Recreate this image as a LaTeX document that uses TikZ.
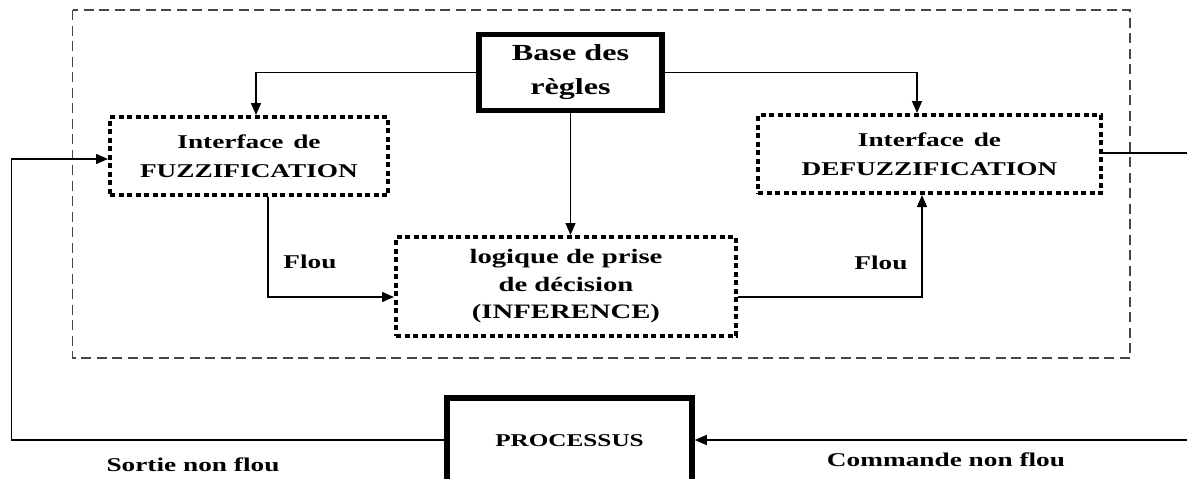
\documentclass[tikz,border=0pt]{standalone}
\usepackage{fontspec}
\setmainfont{Liberation Serif}[FakeStretch=1.4]
\usetikzlibrary{arrows.meta}

\begin{document}
\begin{tikzpicture}[x=1pt,y=1pt,yscale=-1,xscale=1,
  arr/.style={line width=1.4pt,-{Triangle[length=12pt,width=10pt]}},
  wire/.style={line width=1.4pt},
  dotbox/.style={draw,line width=4pt,dash pattern={on 5pt off 3.5pt},inner sep=0pt,align=center,font=\bfseries\fontsize{19.5}{29}\selectfont},
  thickbox/.style={draw,line width=5.5pt,inner sep=0pt,align=center},
  lbl/.style={font=\bfseries\fontsize{19.5}{24}\selectfont}]
%set diagram to 1187 x 479
\useasboundingbox (0,0) rectangle (1187,479);

\draw [color={rgb, 255:red, 70; green, 70; blue, 70 }, line width=1.5pt, dash pattern={on 10pt off 5.5pt}]  (72.5,10) rectangle (1130,358) ;

\node [thickbox, minimum width=183pt, minimum height=76pt, font=\bfseries\fontsize{23}{34}\selectfont] (base) at (570.5,72.5) {Base des\\règles};
\node [dotbox, minimum width=278pt, minimum height=78pt] (fuzz) at (249,156) {Interface\enspace de\\FUZZIFICATION};
\node [dotbox, minimum width=343pt, minimum height=78pt] (defuzz) at (929.5,154) {Interface\enspace de\\DEFUZZIFICATION};
\node [dotbox, minimum width=340pt, minimum height=99pt, font=\bfseries\fontsize{20.5}{27.5}\selectfont] (logique) at (566,286.5) {logique de prise\\de décision\\(INFERENCE)};
% box runs off the bottom edge
\node [thickbox, minimum width=245pt, text height=48pt, text depth=56pt, anchor=base, font=\bfseries\fontsize{18}{22}\selectfont] (proc) at (569.5,446) {PROCESSUS};

\coordinate (outR) at (1187,153);
\coordinate (inR) at (1187,440);
\coordinate (outL) at (11.5,440);

\draw [arr] (base.west) -| ([xshift=7pt]fuzz.north);
\draw [arr] (base.east) -| ([xshift=-12.5pt]defuzz.north);
\draw [arr] (base.south) -- (base.south |- logique.north);
\draw [arr] ([xshift=19pt]fuzz.south) |- ([yshift=10.5pt]logique.west);
\draw [arr] ([yshift=10.5pt]logique.east) -| ([xshift=-7.5pt]defuzz.south);
\draw [wire] (defuzz.east |- outR) -- (outR);
\draw [arr] (inR) -- (proc.east |- inR);
\draw [arr] (proc.west |- outL) -- (outL) |- ([yshift=3pt]fuzz.west);

\node [lbl] (flouA) at (310,262) {Flou};
\node [lbl] (flouB) at (881,263) {Flou};
\node [lbl] (sortie) at (193,465) {Sortie non flou};
\node [lbl] (commande) at (946,460) {Commande non flou};

\end{tikzpicture}
\end{document}
